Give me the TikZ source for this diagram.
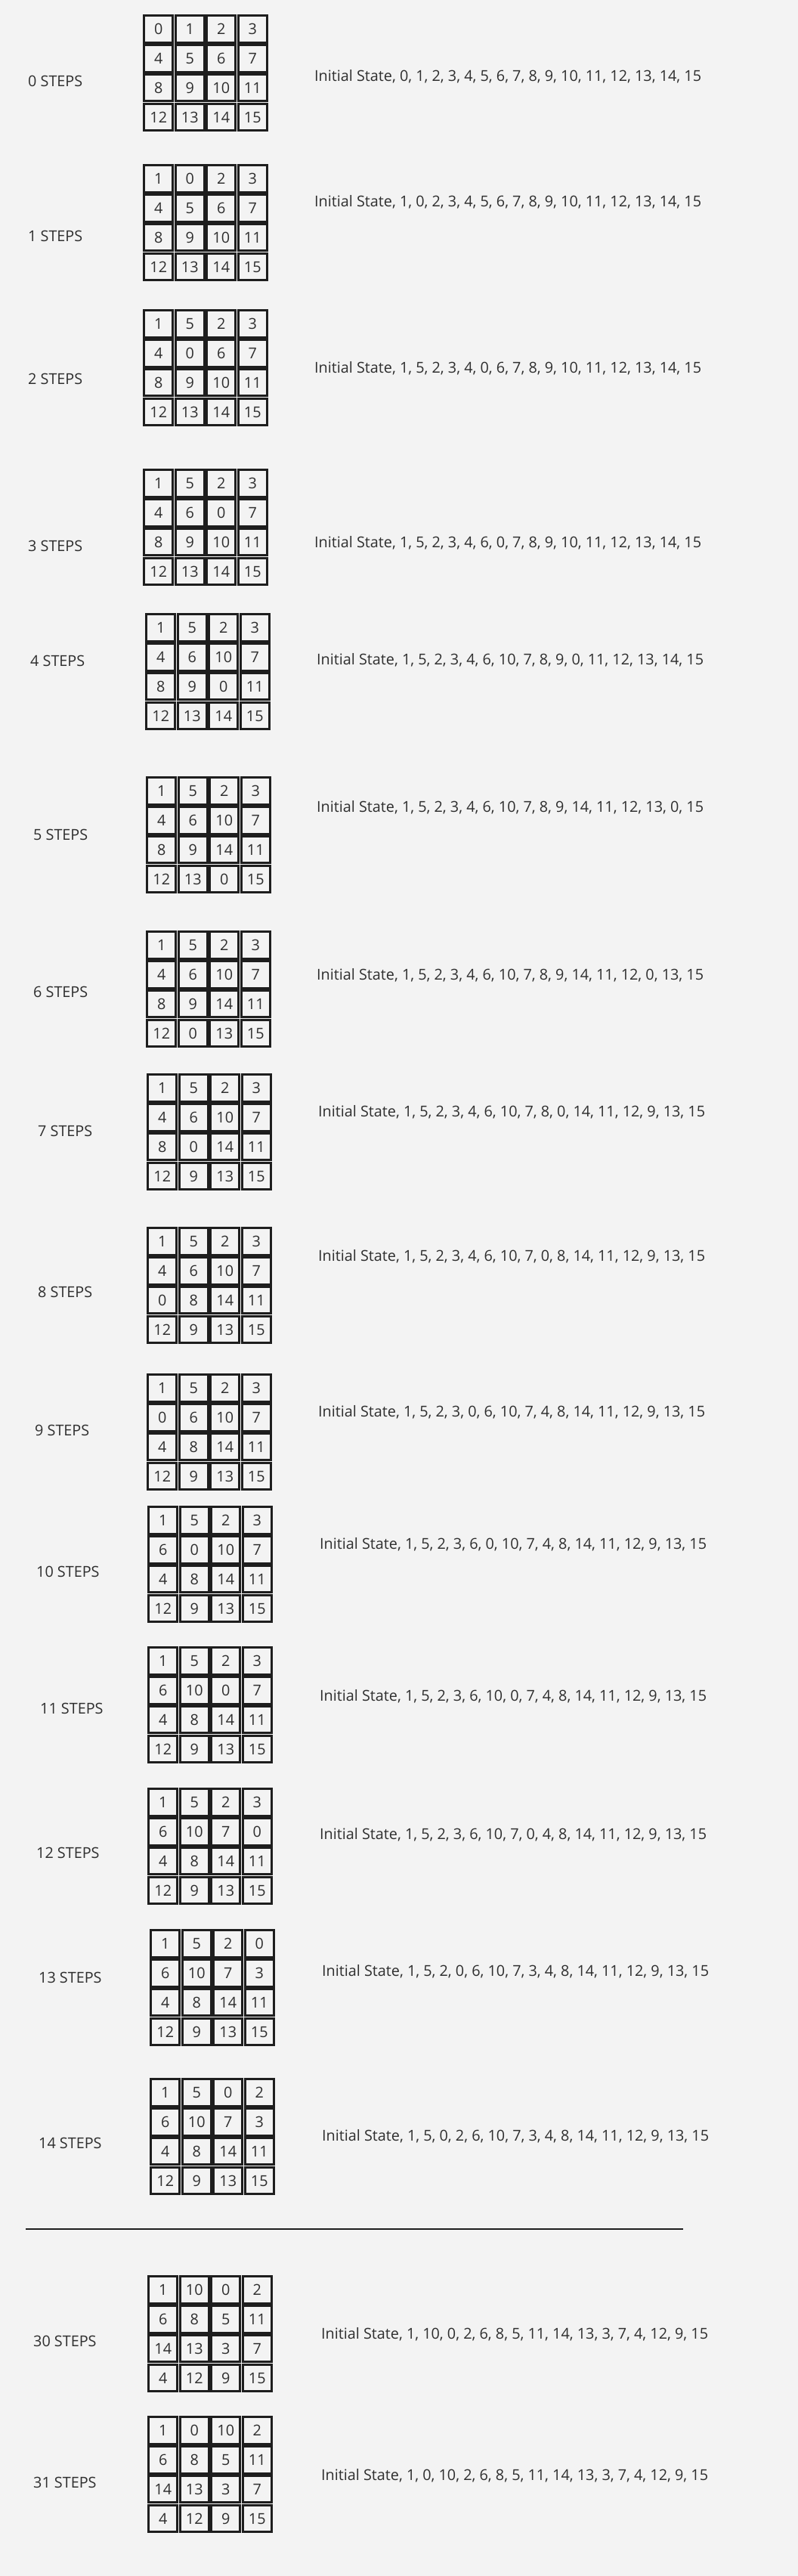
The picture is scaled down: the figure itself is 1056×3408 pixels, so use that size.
\documentclass[tikz,border=0pt]{standalone}
\usepackage{fontspec}
\setmainfont{Open Sans}
\definecolor{bg}{HTML}{F3F3F3}
\definecolor{ink}{HTML}{2E2E2E}
\definecolor{edge}{HTML}{1E1E1E}
\tikzset{
  tile/.style={draw=edge, line width=3pt, fill=bg, minimum width=38pt, minimum height=35.5pt, inner sep=0pt, text=ink},
  caption/.style={anchor=base west, inner sep=0pt, text=ink},
}

\begin{document}
\begin{tikzpicture}[x=1pt, y=-1pt, font=\fontsize{19.8}{23}\selectfont]
\fill[bg] (0,0) rectangle (1056,3408);

\foreach \n/\gx/\gy/\lx/\ly/\tx/\ty/\st in {
  0/189/19/37/107/416/100/{0, 1, 2, 3, 4, 5, 6, 7, 8, 9, 10, 11, 12, 13, 14, 15},
  1/189/217/37/312/416/266/{1, 0, 2, 3, 4, 5, 6, 7, 8, 9, 10, 11, 12, 13, 14, 15},
  2/189/409/37/501/416/486/{1, 5, 2, 3, 4, 0, 6, 7, 8, 9, 10, 11, 12, 13, 14, 15},
  3/189/620/37/722/416/717/{1, 5, 2, 3, 4, 6, 0, 7, 8, 9, 10, 11, 12, 13, 14, 15},
  4/192/811/40/874/419/872/{1, 5, 2, 3, 4, 6, 10, 7, 8, 9, 0, 11, 12, 13, 14, 15},
  5/193/1027/44/1104/419/1067/{1, 5, 2, 3, 4, 6, 10, 7, 8, 9, 14, 11, 12, 13, 0, 15},
  6/193/1231/44/1312/419/1289/{1, 5, 2, 3, 4, 6, 10, 7, 8, 9, 14, 11, 12, 0, 13, 15},
  7/194/1420/50/1496/421/1470/{1, 5, 2, 3, 4, 6, 10, 7, 8, 0, 14, 11, 12, 9, 13, 15},
  8/194/1623/50/1709/421/1661/{1, 5, 2, 3, 4, 6, 10, 7, 0, 8, 14, 11, 12, 9, 13, 15},
  9/194/1817/46/1892/421/1867/{1, 5, 2, 3, 0, 6, 10, 7, 4, 8, 14, 11, 12, 9, 13, 15},
  10/195/1992/48/2079/423/2042/{1, 5, 2, 3, 6, 0, 10, 7, 4, 8, 14, 11, 12, 9, 13, 15},
  11/195/2178/53/2260/423/2243/{1, 5, 2, 3, 6, 10, 0, 7, 4, 8, 14, 11, 12, 9, 13, 15},
  12/195/2365/48/2451/423/2426/{1, 5, 2, 3, 6, 10, 7, 0, 4, 8, 14, 11, 12, 9, 13, 15},
  13/198/2552/51/2616/426/2607/{1, 5, 2, 0, 6, 10, 7, 3, 4, 8, 14, 11, 12, 9, 13, 15},
  14/198/2749/51/2835/426/2825/{1, 5, 0, 2, 6, 10, 7, 3, 4, 8, 14, 11, 12, 9, 13, 15},
  30/195/3010/44/3097/425/3087/{1, 10, 0, 2, 6, 8, 5, 11, 14, 13, 3, 7, 4, 12, 9, 15},
  31/195/3196/44/3284/425/3274/{1, 0, 10, 2, 6, 8, 5, 11, 14, 13, 3, 7, 4, 12, 9, 15}%
}{
  \foreach \v [count=\i from 0] in \st {
    \pgfmathtruncatemacro\col{mod(\i,4)}
    \pgfmathtruncatemacro\row{div(\i,4)}
    \node[tile] (c\n-\i) at ({\gx+20.75+41.5*\col},{\gy+19.4+38.9*\row}) {\v};
  }
  \node[caption] (steps\n) at (\lx,\ly+7) {\n\ STEPS};
  \node[caption] (state\n) at (\tx,\ty+7) {Initial State, \st};
}

\coordinate (ruleL) at (34,2949);
\coordinate (ruleR) at (904,2949);
\draw[edge, line width=2pt] (ruleL) -- (ruleR);
\end{tikzpicture}
\end{document}
